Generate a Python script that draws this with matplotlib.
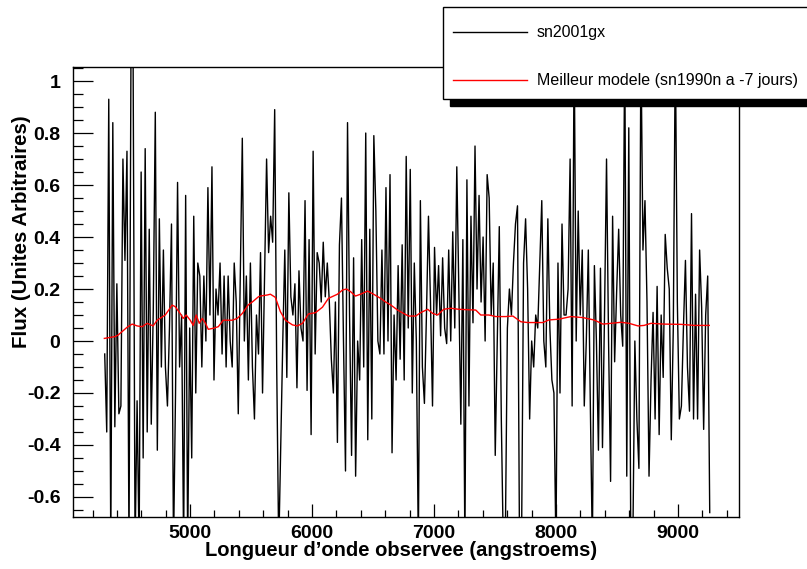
import matplotlib
matplotlib.use("Agg")
import matplotlib.pyplot as plt
from matplotlib.patches import Rectangle
from matplotlib.lines import Line2D
from matplotlib.ticker import MultipleLocator
import numpy as np

plt.rcParams['font.family'] = ['Liberation Sans', 'DejaVu Sans']

flux_obs = [
    -0.05, -0.35, 0.93, -0.80, 0.84, -0.33, 0.22, -0.28, -0.25, 0.70,
    0.31, 0.73, -0.80, 1.15, 1.15, -0.80, -0.23, -0.80, 0.65, -0.45,
    0.74, -0.35, 0.43, -0.32, 0.12, 0.88, -0.42, 0.47, -0.10, 0.35,
    -0.10, -0.25, 0.05, 0.45, -0.80, -0.20, 0.61, -0.10, 0.10, -0.80,
    0.56, -0.80, 0.05, -0.45, 0.48, -0.20, 0.30, 0.25, -0.10, 0.25,
    0.00, 0.59, 0.10, 0.67, -0.15, 0.20, 0.10, 0.30, -0.05, 0.25,
    -0.10, 0.25, 0.00, -0.10, 0.30, 0.15, -0.28, 0.25, 0.78, 0.00,
    0.25, -0.15, 0.30, -0.10, -0.30, 0.10,
    -0.05, 0.34, -0.20, 0.25, 0.70, 0.34, 0.48, 0.38, 0.89, -0.10,
    -0.80, -0.39, 0.00, 0.35, -0.14, 0.57, 0.17, 0.10, 0.22, -0.18,
    0.27, 0.05, 0.00, 0.54, -0.19, 0.39, -0.36, 0.73, -0.05, 0.34,
    0.30, 0.15, 0.38, 0.17, 0.30, 0.15, -0.07, -0.20, 0.15, -0.39,
    0.37, 0.55, 0.00, -0.50, 0.84, 0.10, -0.44, 0.32, -0.52, 0.00,
    -0.15, 0.39, -0.10, 0.80, -0.38, 0.43, -0.30, 0.79, 0.50, 0.00,
    -0.05, 0.35, -0.05, 0.59, 0.00, 0.64, -0.43, 0.10, -0.15, 0.29,
    -0.07, 0.37, -0.15, 0.71, 0.05, 0.66, -0.20, 0.30, 0.00, -0.80,
    0.54, -0.10, -0.24, 0.10,
    0.48, 0.15, -0.25, 0.36, 0.10, 0.29, 0.02, 0.32, 0.05, -0.01,
    0.35, 0.00, 0.42, 0.05, 0.67, 0.20, -0.32, 0.39, -0.80, 0.62,
    -0.25, 0.48, 0.07, 0.75, 0.20, 0.56, 0.15, 0.40, 0.00, 0.64,
    0.55, 0.10, 0.30, -0.44, 0.00, 0.44, -0.30, -0.80, -0.75, 0.05,
    0.20, 0.10, 0.30, 0.45, 0.52, -0.80, -0.78, 0.30, 0.47, 0.20,
    -0.30, 0.00, -0.10, 0.10, 0.05, 0.30, 0.54, 0.00, -0.10, 0.47,
    0.05, -0.15, -0.20, -0.80, 0.30, -0.20, 0.45, 0.10, 0.10, 0.20,
    0.70, -0.25, 1.15, 0.00, 0.50, 0.10, 0.35, -0.25, 0.00,
    0.35, -0.25, -0.80, 0.29, 0.00, -0.42, 0.28, -0.41, 0.10, 0.70,
    0.00, -0.54, 0.48, -0.08, 0.19, 0.43, 0.10, -0.02, 1.15, -0.52,
    0.82, -0.80, -0.78, 0.00, -0.30, -0.49, 1.15, 0.35, 0.54, 0.15,
    -0.52, -0.15, 0.11, -0.30, 0.21, -0.36, 0.10, -0.14, 0.41, 0.28,
    0.20, -0.38, 0.05, 1.15, 0.15, -0.30, -0.25, 0.05, 0.31, -0.10,
    -0.27, 0.49, -0.30, 0.18, -0.30, 0.35, 0.13, -0.34, 0.10, 0.25,
    -0.66,
]
obs_start, obs_end = 4300, 9260
wave_obs = np.linspace(obs_start, obs_end, len(flux_obs))

# best model sn1990n at -7 days
wave_mod = [4297, 4385, 4410, 4484, 4525, 4566, 4607, 4648, 4697, 4730,
            4796, 4853, 4878, 4919, 4943, 4968, 5001, 5026, 5050, 5075,
            5100, 5124, 5149, 5190, 5231, 5272, 5346, 5387, 5428, 5477,
            5510, 5560, 5576, 5633, 5658, 5699, 5740, 5781, 5839, 5880,
            5921, 5970, 6028, 6085, 6134, 6208, 6249, 6282, 6315, 6356,
            6397, 6455, 6504, 6562, 6603, 6644, 6701, 6750, 6792, 6849,
            6890, 6948, 6989, 7030, 7079, 7137, 7202, 7342, 7383, 7449,
            7506, 7588, 7646, 7712, 7769, 7892, 7941, 8024, 8122, 8221,
            8311, 8385, 8451, 8533, 8599, 8672, 8722, 8779, 8886, 9026,
            9133, 9256]
flux_mod = [0.010, 0.017, 0.023, 0.053, 0.065, 0.058, 0.055, 0.068, 0.058, 0.080,
            0.100, 0.138, 0.132, 0.106, 0.087, 0.100, 0.080, 0.060, 0.100, 0.068,
            0.087, 0.070, 0.045, 0.049, 0.055, 0.080, 0.080, 0.087, 0.106, 0.139,
            0.150, 0.170, 0.173, 0.177, 0.180, 0.168, 0.113, 0.080, 0.062, 0.058,
            0.068, 0.104, 0.109, 0.130, 0.164, 0.180, 0.196, 0.200, 0.190, 0.173,
            0.180, 0.192, 0.180, 0.164, 0.150, 0.139, 0.119, 0.106, 0.096, 0.096,
            0.109, 0.122, 0.106, 0.100, 0.122, 0.126, 0.122, 0.119, 0.100, 0.100,
            0.094, 0.094, 0.096, 0.074, 0.071, 0.071, 0.081, 0.084, 0.094, 0.090,
            0.081, 0.065, 0.068, 0.072, 0.068, 0.058, 0.060, 0.068, 0.065, 0.064,
            0.060, 0.060]

W, H = 807, 569
fig = plt.figure(figsize=(W / 100, H / 100), dpi=100)
ax = fig.add_axes([73 / W, 1 - 517 / H, (739 - 73) / W, (517 - 67) / H])

ax.plot(wave_obs, flux_obs, color='black', lw=1.0)
ax.plot(wave_mod, flux_mod, color='red', lw=1.0)

ax.set_xlim(4040, 9500)
ax.set_ylim(-0.677, 1.054)

ax.xaxis.set_major_locator(MultipleLocator(1000))
ax.xaxis.set_minor_locator(MultipleLocator(200))
ax.yaxis.set_major_locator(MultipleLocator(0.2))
ax.yaxis.set_minor_locator(MultipleLocator(0.05))
ax.yaxis.set_major_formatter(plt.FuncFormatter(lambda v, p: '%g' % round(v, 2)))

ax.tick_params(axis='both', which='both', direction='in', top=False, right=False,
               labelsize=14, width=0.9)
ax.tick_params(axis='x', which='major', length=9.7, pad=5.5)
ax.tick_params(axis='x', which='minor', length=4.9)
ax.tick_params(axis='y', which='major', length=14.4, pad=9)
ax.tick_params(axis='y', which='minor', length=7.2)
for lab in ax.get_xticklabels() + ax.get_yticklabels():
    lab.set_fontweight('bold')
for s in ax.spines.values():
    s.set_linewidth(1.0)

fig.text(401 / W, 1 - 551 / H, 'Longueur d’onde observee (angstroems)',
         ha='center', va='center', fontsize=14.5, fontweight='bold')
fig.text(22 / W, 1 - 232 / H, 'Flux (Unites Arbitraires)', rotation=90,
         ha='center', va='center', fontsize=14.8, fontweight='bold')

# legend box with ROOT-like shadow, running off the right edge
lx0, ly_top, ly_bot = 443, 7, 99
sh = 7
fig.patches.append(Rectangle(((lx0 + sh) / W, 1 - (ly_bot + sh) / H),
                             (W - lx0) / W, (ly_bot - ly_top) / H,
                             transform=fig.transFigure, facecolor='black',
                             edgecolor='black', zorder=5))
fig.patches.append(Rectangle((lx0 / W, 1 - ly_bot / H), (W - lx0 + 20) / W,
                             (ly_bot - ly_top) / H, transform=fig.transFigure,
                             facecolor='white', edgecolor='black', lw=1.0,
                             zorder=6))
entries = [('sn2001gx', 'black', 32), ('Meilleur modele (sn1990n a -7 jours)', 'red', 80)]
for label, col, yy in entries:
    fig.lines.append(Line2D([453 / W, 527 / W], [1 - yy / H, 1 - yy / H],
                            transform=fig.transFigure, color=col, lw=1.0, zorder=7))
    fig.text(537 / W, 1 - yy / H, label, ha='left', va='center', fontsize=11.5,
             zorder=8)

fig.savefig('out.png', dpi=100)
